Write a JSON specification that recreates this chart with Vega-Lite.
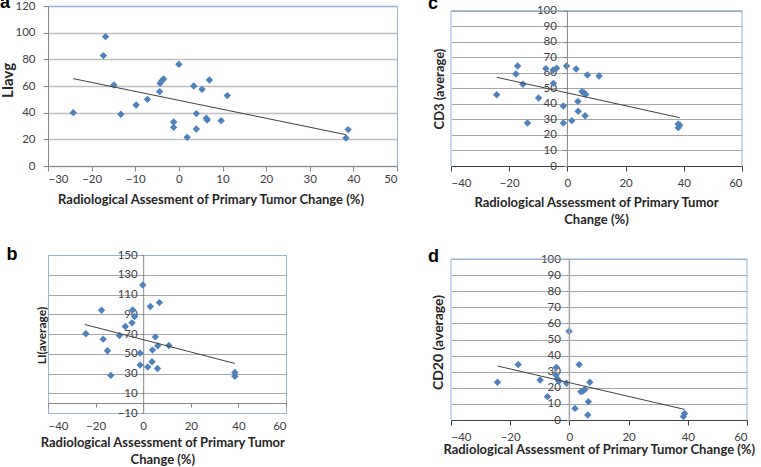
{
  "$schema": "https://vega.github.io/schema/vega-lite/v6.json",
  "autosize": {"type": "none"},
  "padding": {"left": 48, "top": 6, "right": 713, "bottom": 461},
  "background": "white",
  "columns": 2,
  "bounds": "flush",
  "align": "each",
  "spacing": {"row": 89, "column": 54},
  "config": {
    "font": "Lato",
    "axis": {
      "labelFont": "Lato", "labelFontSize": 11.5, "labelColor": "#404040", "labelOverlap": false, "tickCount": 20,
      "titleFont": "Lato", "titleFontWeight": "bold", "titleColor": "#262626",
      "domainColor": "#868686", "tickColor": "#868686", "gridColor": "#B4B4B4"
    },
    "title": {"font": "Liberation Sans", "fontWeight": "bold", "fontSize": 18, "color": "#000000"}
  },
  "datasets": {
    "a": [
      {"x": -24.2, "y": 40}, {"x": -16.8, "y": 97}, {"x": -17.3, "y": 82.8}, {"x": -14.9, "y": 60.8},
      {"x": -13.3, "y": 38.8}, {"x": -9.8, "y": 45.8}, {"x": -7.2, "y": 50}, {"x": -4.4, "y": 55.8},
      {"x": -4.3, "y": 62}, {"x": -3.9, "y": 64}, {"x": -3.5, "y": 65.3}, {"x": 0, "y": 76.3},
      {"x": -1.2, "y": 33}, {"x": -1.2, "y": 29}, {"x": 1.9, "y": 21.5}, {"x": 3.4, "y": 60},
      {"x": 4.0, "y": 39.3}, {"x": 4.0, "y": 27.8}, {"x": 5.3, "y": 57.5}, {"x": 6.3, "y": 35.8},
      {"x": 6.5, "y": 34.5}, {"x": 7.0, "y": 64.5}, {"x": 9.7, "y": 34}, {"x": 11.1, "y": 52.8},
      {"x": 38.3, "y": 21}, {"x": 38.8, "y": 27.3}
    ],
    "a_trend": [{"x": -24.2, "y": 65.5}, {"x": 38.3, "y": 23.5}],
    "b": [
      {"x": -24.1, "y": 70.2}, {"x": -17.5, "y": 94.1}, {"x": -16.8, "y": 64.8}, {"x": -15.0, "y": 53},
      {"x": -13.6, "y": 28.1}, {"x": -10.0, "y": 68.5}, {"x": -7.5, "y": 77.6}, {"x": -4.7, "y": 81.3},
      {"x": -4.4, "y": 94.4}, {"x": -3.6, "y": 87.7}, {"x": -0.2, "y": 119.7}, {"x": -1.3, "y": 50.6},
      {"x": -1.3, "y": 38.5}, {"x": 1.9, "y": 36.5}, {"x": 3.0, "y": 97.8}, {"x": 3.7, "y": 41.9},
      {"x": 3.9, "y": 53.7}, {"x": 5.1, "y": 67.1}, {"x": 6.1, "y": 58}, {"x": 6.0, "y": 35.1},
      {"x": 6.8, "y": 101.8}, {"x": 10.8, "y": 58.4}, {"x": 38.5, "y": 31.1}, {"x": 38.5, "y": 27.1}
    ],
    "b_trend": [{"x": -24.5, "y": 79.6}, {"x": 38.5, "y": 40.2}],
    "c": [
      {"x": -24.3, "y": 45.9}, {"x": -17.1, "y": 64.4}, {"x": -17.7, "y": 59.2}, {"x": -15.3, "y": 52.6},
      {"x": -13.7, "y": 27.7}, {"x": -9.9, "y": 43.8}, {"x": -7.4, "y": 62.7}, {"x": -4.8, "y": 53.2},
      {"x": -4.9, "y": 61.8}, {"x": -3.7, "y": 63}, {"x": -0.3, "y": 64.4}, {"x": -1.4, "y": 38.6},
      {"x": -1.4, "y": 27.7}, {"x": 1.5, "y": 29.2}, {"x": 3.0, "y": 62.4}, {"x": 3.6, "y": 41.6},
      {"x": 3.7, "y": 35.2}, {"x": 5.0, "y": 47.9}, {"x": 5.7, "y": 47.2}, {"x": 6.3, "y": 46.1},
      {"x": 6.1, "y": 32.4}, {"x": 6.9, "y": 58.6}, {"x": 10.9, "y": 57.9}, {"x": 38.1, "y": 27},
      {"x": 38.1, "y": 24.7}, {"x": 38.6, "y": 26.3}
    ],
    "c_trend": [{"x": -24.3, "y": 57.1}, {"x": 38.6, "y": 31.1}],
    "d": [
      {"x": -24.3, "y": 23.4}, {"x": -17.3, "y": 34.4}, {"x": -9.9, "y": 24.8}, {"x": -7.4, "y": 14.5},
      {"x": -4.4, "y": 32.7}, {"x": -4.6, "y": 28}, {"x": -4.0, "y": 25.5}, {"x": -3.5, "y": 24},
      {"x": -1.0, "y": 22.8}, {"x": -0.1, "y": 55.1}, {"x": 1.9, "y": 7.2}, {"x": 3.3, "y": 34.4},
      {"x": 3.9, "y": 17.6}, {"x": 4.7, "y": 18.2}, {"x": 5.2, "y": 19}, {"x": 6.4, "y": 11.4},
      {"x": 6.2, "y": 3.1}, {"x": 6.9, "y": 23.4}, {"x": 38.9, "y": 4.1}, {"x": 38.5, "y": 2.1}
    ],
    "d_trend": [{"x": -24.2, "y": 33.5}, {"x": 38.9, "y": 6.6}]
  },
  "concat": [
    {
      "width": 349, "height": 160,
      "view": {"stroke": "#95B3D7"},
      "title": {"text": "a", "anchor": "start", "frame": "group", "orient": "top", "offset": 0, "dx": -48, "dy": 26, "baseline": "alphabetic"},
      "layer": [
        {
          "data": {"name": "a"},
          "mark": {"type": "point", "shape": "diamond", "filled": true, "size": 55, "color": "#4F81BD", "opacity": 1},
          "encoding": {
            "x": {"field": "x", "type": "quantitative",
              "scale": {"domain": [-30, 50], "nice": false, "zero": false},
              "axis": {"values": [-30, -20, -10, 0, 10, 20, 30, 40, 50], "grid": false, "tickSize": 5, "labelPadding": 2,
                "title": "Radiological  Assesment of Primary Tumor Change (%)", "titleFontSize": 13,
                "titleX": 162.5, "titleY": 37, "titleBaseline": "alphabetic", "titleAlign": "center"}},
            "y": {"field": "y", "type": "quantitative",
              "scale": {"domain": [0, 120], "nice": false},
              "axis": {"values": [0, 20, 40, 60, 80, 100, 120], "grid": true, "gridWidth": 1.5,
                "gridColor": {"condition": {"test": "datum.value === 120", "value": "#95B3D7"}, "value": "#BFBFBF"},
                "tickSize": 5, "labelPadding": 8,
                "title": "LIavg", "titleFontSize": 15, "titleX": -36, "titleY": 74, "titleBaseline": "alphabetic", "titleAlign": "center"}}
          }
        },
        {
          "data": {"name": "a_trend"},
          "mark": {"type": "line", "color": "#404040", "strokeWidth": 1},
          "encoding": {"x": {"field": "x", "type": "quantitative"}, "y": {"field": "y", "type": "quantitative"}}
        }
      ]
    },
    {
      "width": 291, "height": 160,
      "view": {"stroke": null},
      "title": {"text": "c", "anchor": "start", "frame": "group", "orient": "top", "offset": 0, "dx": -23, "dy": 22.5, "baseline": "alphabetic"},
      "layer": [
        {
          "data": {"name": "c"},
          "mark": {"type": "point", "shape": "diamond", "filled": true, "size": 55, "color": "#4F81BD", "opacity": 1},
          "encoding": {
            "x": {"field": "x", "type": "quantitative",
              "scale": {"domain": [-40, 60], "nice": false, "zero": false},
              "axis": {"values": [-40, -20, 0, 20, 40, 60], "grid": false, "tickSize": 5, "labelPadding": 6,
                "domainColor": "#404040", "tickColor": "#404040",
                "title": ["Radiological Assessment of Primary Tumor", "Change (%)"], "titleFontSize": 13, "titleLineHeight": 16.5,
                "titleX": 145, "titleY": 40.5, "titleBaseline": "alphabetic", "titleAlign": "center"}},
            "y": {"field": "y", "type": "quantitative",
              "scale": {"domain": [0, 103], "nice": false},
              "axis": {"values": [0, 10, 20, 30, 40, 50, 60, 70, 80, 90, 100], "offset": -116.4, "domain": false,
                "grid": true, "gridColor": "#A6A6A6", "tickSize": 4, "labelPadding": 7,
                "title": "CD3 (average)", "titleFontSize": 13, "titleX": -123.5, "titleY": 82.5, "titleBaseline": "alphabetic", "titleAlign": "center"}}
          }
        },
        {"data": {"values": [{}]}, "mark": {"type": "rule", "color": "#95B3D7"}, "encoding": {"x": {"datum": -40}, "x2": {"datum": 60}, "y": {"datum": 100}}},
        {"data": {"values": [{}]}, "mark": {"type": "rule", "color": "#95B3D7"}, "encoding": {"x": {"datum": -40}, "y": {"datum": 0}, "y2": {"datum": 100}}},
        {"data": {"values": [{}]}, "mark": {"type": "rule", "color": "#95B3D7"}, "encoding": {"x": {"datum": 60}, "y": {"datum": 0}, "y2": {"datum": 100}}},
        {"data": {"values": [{}]}, "mark": {"type": "rule", "color": "#868686"}, "encoding": {"x": {"datum": 0}, "y": {"datum": 0}, "y2": {"datum": 100}}},
        {
          "data": {"name": "c_trend"},
          "mark": {"type": "line", "color": "#404040", "strokeWidth": 1},
          "encoding": {"x": {"field": "x", "type": "quantitative"}, "y": {"field": "y", "type": "quantitative"}}
        }
      ]
    },
    {
      "width": 238, "height": 158,
      "view": {"stroke": "#95B3D7"},
      "title": {"text": "b", "anchor": "start", "frame": "group", "orient": "top", "offset": 0, "dx": -41.5, "dy": 29, "baseline": "alphabetic"},
      "resolve": {"axis": {"x": "independent"}},
      "layer": [
        {
          "data": {"name": "b"},
          "mark": {"type": "point", "shape": "diamond", "filled": true, "size": 55, "color": "#4F81BD", "opacity": 1},
          "encoding": {
            "x": {"field": "x", "type": "quantitative",
              "scale": {"domain": [-40, 60], "nice": false, "zero": false},
              "axis": {"orient": "bottom", "values": [-40, -20, 0, 20, 40, 60], "grid": false, "domain": false, "ticks": false, "labelPadding": 7,
                "title": ["Radiological Assessment of Primary Tumor", "Change (%)"], "titleFontSize": 13, "titleLineHeight": 16.5,
                "titleX": 114.3, "titleY": 33.7, "titleBaseline": "alphabetic", "titleAlign": "center"}},
            "y": {"field": "y", "type": "quantitative",
              "scale": {"domain": [-10, 150], "nice": false},
              "axis": {"values": [-10, 10, 30, 50, 70, 90, 110, 130, 150], "offset": -95.2,
                "grid": true, "gridColor": {"condition": {"test": "datum.value === 150 || datum.value === -10", "value": "#95B3D7"}, "value": "#A6A6A6"},
                "tickSize": 2, "labelPadding": 4,
                "title": "LI(average)", "titleFontSize": 12, "titleX": -98.2, "titleY": 80, "titleBaseline": "alphabetic", "titleAlign": "center"}}
          }
        },
        {
          "data": {"name": "b_trend"},
          "mark": {"type": "line", "color": "#404040", "strokeWidth": 1},
          "encoding": {
            "x": {"field": "x", "type": "quantitative",
              "axis": {"orient": "bottom", "offset": -10, "values": [-40, -20, 0, 20, 40, 60], "labels": false, "grid": false, "domain": true, "ticks": true, "tickSize": 4, "title": null}},
            "y": {"field": "y", "type": "quantitative"}
          }
        }
      ]
    },
    {
      "width": 296, "height": 165,
      "view": {"stroke": null},
      "title": {"text": "d", "anchor": "start", "frame": "group", "orient": "top", "offset": 0, "dx": -23, "dy": 27, "baseline": "alphabetic"},
      "layer": [
        {
          "data": {"name": "d"},
          "mark": {"type": "point", "shape": "diamond", "filled": true, "size": 55, "color": "#4F81BD", "opacity": 1},
          "encoding": {
            "x": {"field": "x", "type": "quantitative",
              "scale": {"domain": [-40, 60], "nice": false, "zero": false},
              "axis": {"values": [-40, -20, 0, 20, 40, 60], "grid": false, "tickSize": 5, "labelPadding": 6,
                "domainColor": "#404040", "tickColor": "#404040",
                "title": "Radiological Assessment of Primary Tumor Change (%)", "titleFontSize": 13,
                "titleX": 147.7, "titleY": 33.3, "titleBaseline": "alphabetic", "titleAlign": "center"}},
            "y": {"field": "y", "type": "quantitative",
              "scale": {"domain": [0, 102.5], "nice": false},
              "axis": {"values": [0, 10, 20, 30, 40, 50, 60, 70, 80, 90, 100], "offset": -118.4, "domain": false,
                "grid": true, "gridColor": "#A6A6A6", "tickSize": 3, "labelPadding": 6,
                "title": "CD20 (average)", "titleFontSize": 14, "titleX": -127.4, "titleY": 87, "titleBaseline": "alphabetic", "titleAlign": "center"}}
          }
        },
        {"data": {"values": [{}]}, "mark": {"type": "rule", "color": "#95B3D7"}, "encoding": {"x": {"datum": -40}, "x2": {"datum": 60}, "y": {"datum": 100}}},
        {"data": {"values": [{}]}, "mark": {"type": "rule", "color": "#95B3D7"}, "encoding": {"x": {"datum": -40}, "y": {"datum": 0}, "y2": {"datum": 100}}},
        {"data": {"values": [{}]}, "mark": {"type": "rule", "color": "#95B3D7"}, "encoding": {"x": {"datum": 60}, "y": {"datum": 0}, "y2": {"datum": 100}}},
        {"data": {"values": [{}]}, "mark": {"type": "rule", "color": "#A6A6A6", "strokeWidth": 1.5}, "encoding": {"x": {"datum": 0}, "y": {"datum": 0}, "y2": {"datum": 100}}},
        {
          "data": {"name": "d_trend"},
          "mark": {"type": "line", "color": "#404040", "strokeWidth": 1},
          "encoding": {"x": {"field": "x", "type": "quantitative"}, "y": {"field": "y", "type": "quantitative"}}
        }
      ]
    }
  ]
}
